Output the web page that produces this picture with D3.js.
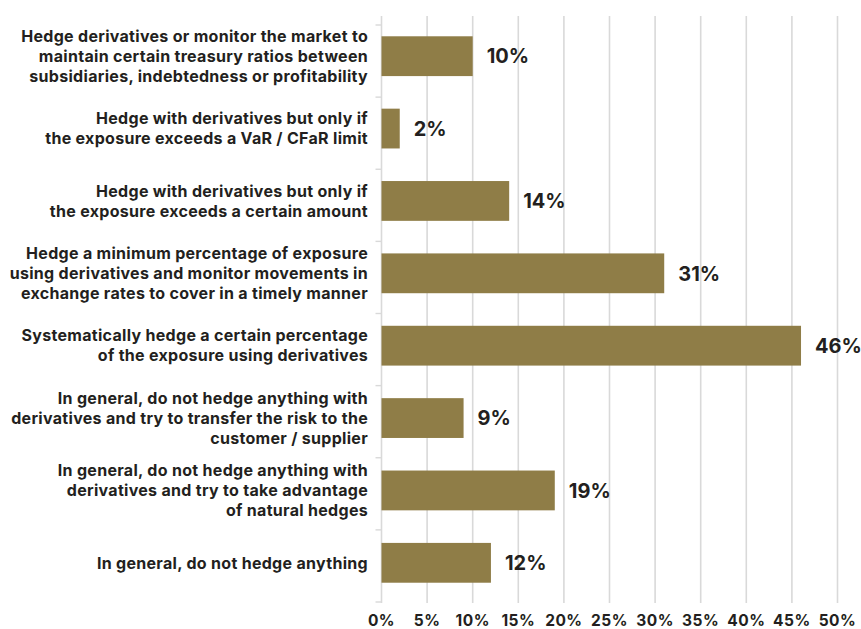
<!DOCTYPE html>
<html>
<head>
<meta charset="utf-8">
<script src="https://cdn.jsdelivr.net/npm/d3@7"></script>
<style>
  html, body { margin: 0; padding: 0; background: #ffffff; }
  svg { display: block; font-family: Inter, "Noto Sans", sans-serif; }
</style>
</head>
<body>
<svg id="chart" width="861" height="629"></svg>
<script>
// Survey answers: hedging policy, each label split into its display lines
const categories = [
  ["Hedge derivatives or monitor the market to", "maintain certain treasury ratios between", "subsidiaries, indebtedness or profitability"],
  ["Hedge with derivatives but only if", "the exposure exceeds a VaR / CFaR limit"],
  ["Hedge with derivatives but only if", "the exposure exceeds a certain amount"],
  ["Hedge a minimum percentage of exposure", "using derivatives and monitor movements in", "exchange rates to cover in a timely manner"],
  ["Systematically hedge a certain percentage", "of the exposure using derivatives"],
  ["In general, do not hedge anything with", "derivatives and try to transfer the risk to the", "customer / supplier"],
  ["In general, do not hedge anything with", "derivatives and try to take advantage", "of natural hedges"],
  ["In general, do not hedge anything"]
];
const values = [10, 2, 14, 31, 46, 9, 19, 12];
const xTicks = [0, 5, 10, 15, 20, 25, 30, 35, 40, 45, 50];

const svg = d3.select("#chart");
const plot = { left: 381.5, right: 837.5, top: 20, bottom: 599 };
const barColor = "#8f7d47";
const gridColor = "#d9d9d9";
const textColor = "#231f20";

const x = d3.scaleLinear().domain([0, 50]).range([plot.left, plot.right]);
const y = d3.scaleBand()
  .domain(d3.range(values.length))
  .range([plot.top, plot.bottom])
  .paddingInner(0.45)
  .paddingOuter(0.225);

// vertical gridlines
svg.append("g")
  .selectAll("line")
  .data(xTicks.slice(1))
  .join("line")
  .attr("x1", d => x(d)).attr("x2", d => x(d))
  .attr("y1", 16).attr("y2", 603)
  .attr("stroke", gridColor)
  .attr("stroke-width", 1.6);

// category axis line with ticks at band boundaries
const axisG = svg.append("g");
axisG.append("line")
  .attr("x1", x(0)).attr("x2", x(0))
  .attr("y1", 16).attr("y2", 603)
  .attr("stroke", gridColor)
  .attr("stroke-width", 1.6);
const boundaries = d3.range(values.length + 1).map(i => plot.top + 5 + i * (plot.bottom - plot.top - 2) / values.length);
axisG.selectAll("line.tick")
  .data(boundaries)
  .join("line")
  .attr("class", "tick")
  .attr("x1", x(0) - 6).attr("x2", x(0))
  .attr("y1", d => d).attr("y2", d => d)
  .attr("stroke", gridColor)
  .attr("stroke-width", 1.4);

// bars
svg.append("g")
  .selectAll("rect")
  .data(values)
  .join("rect")
  .attr("x", x(0))
  .attr("y", (d, i) => y(i))
  .attr("width", d => x(d) - x(0))
  .attr("height", y.bandwidth())
  .attr("fill", barColor);

// value labels
svg.append("g")
  .selectAll("text")
  .data(values)
  .join("text")
  .attr("x", d => x(d) + 14)
  .attr("y", (d, i) => y(i) + y.bandwidth() / 2)
  .attr("dy", "0.36em")
  .attr("font-size", 20)
  .attr("font-weight", 700)
  .attr("fill", textColor)
  .text(d => d + "%");

// category labels
const lineH = 20;
const catG = svg.append("g");
categories.forEach((lines, i) => {
  const cy = y(i) + y.bandwidth() / 2;
  const t = catG.append("text")
    .attr("text-anchor", "end")
    .attr("font-size", 16)
    .attr("font-weight", 700)
    .attr("letter-spacing", 0.3)
    .attr("fill", textColor);
  lines.forEach((ln, k) => {
    t.append("tspan")
      .attr("x", 368)
      .attr("y", cy + (k - (lines.length - 1) / 2) * lineH)
      .attr("dy", "0.36em")
      .text(ln);
  });
});

// x tick labels
svg.append("g")
  .selectAll("text")
  .data(xTicks)
  .join("text")
  .attr("x", d => x(d))
  .attr("y", 625.5)
  .attr("text-anchor", "middle")
  .attr("font-size", 15.5)
  .attr("font-weight", 700)
  .attr("letter-spacing", 0.5)
  .attr("fill", textColor)
  .text(d => d + "%");
</script>
</body>
</html>
